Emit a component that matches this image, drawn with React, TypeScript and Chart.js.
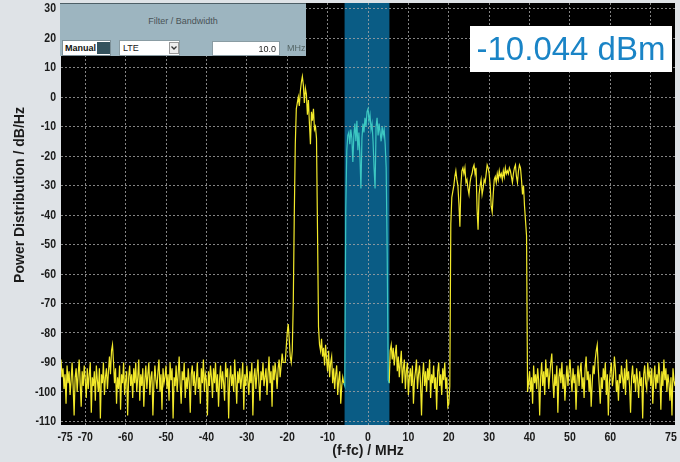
import React, { useEffect, useRef } from "react";
import { Chart, registerables } from "chart.js";

Chart.register(...registerables);

// ---------- axis / labels ----------
const xTicks = [-75, -70, -60, -50, -40, -30, -20, -10, 0, 10, 20, 30, 40, 50, 60, 70, 75];
const xHiddenLabels = [70];
const xNoGrid = [-75, 75];
const yTicks = [-110, -100, -90, -80, -70, -60, -50, -40, -30, -20, -10, 0, 10, 20, 30];
const xMin = -76;
const xMax = 76;
const yMin = -111.2;
const yMax = 31.9;
const xTitle = "(f-fc) / MHz";
const yTitle = "Power Distribution / dB/Hz";

// ---------- measurement band ----------
const bandLow = -5.8;
const bandHigh = 5.3;
const readout = "-10.044 dBm";
const filterTitle = "Filter / Bandwidth";
const filterMode = "Manual";
const filterStandard = "LTE";
const filterBandwidth = "10.0";
const filterUnit = "MHz";

// ---------- trace segments (dB/Hz), each with start frequency and step (MHz) ----------
const floorLeftStart = -76;
const floorLeftStep = 0.25;
const floorLeft = [
  -89, -95, -92, -99, -94, -104, -91, -97,
  -93, -101, -96, -90, -98, -108, -95, -92,
  -100, -94, -89, -97, -105, -93, -98, -91,
  -96, -102, -92, -99, -94, -90, -107, -95,
  -98, -93, -103, -91, -96, -100, -92, -109,
  -94, -97, -90, -101, -95, -92, -99, -93,
  -88, -94, -86, -84, -90, -97, -92, -104,
  -95, -99, -91, -106, -94, -97, -90, -101,
  -96, -93, -108, -95, -91, -98, -94, -102,
  -92, -97, -90, -100, -95, -89, -103, -94,
  -98, -92, -105, -96, -91, -99, -94, -90,
  -101, -95, -93, -108, -97, -91, -96, -99,
  -93, -89, -100, -94, -106, -92, -97, -95,
  -91, -99, -94, -103, -90, -96, -92, -109,
  -95, -98, -91, -100, -94, -88, -97, -104,
  -93, -96, -90, -102, -95, -99, -92, -97,
  -107, -94, -91, -98, -93, -101, -96, -90,
  -99, -95, -104, -92, -97, -89, -100, -94,
  -96, -108, -93, -98, -91, -95, -102, -92,
  -97, -90, -100, -94, -105, -96, -91, -99,
  -93, -97, -103, -90, -95, -92, -109, -96,
  -91, -98, -94, -100, -89, -96, -104, -93,
  -97, -92, -99, -95, -90, -106, -94, -98,
  -91, -96, -101, -93, -97, -90, -108, -95,
  -92, -99, -94, -89, -97, -103, -93, -96,
  -90, -98, -95, -92, -101, -94, -88, -97,
  -93, -105, -91, -96, -90, -94, -99, -92,
  -89, -95, -91, -87, -90,
];

const carrier1Start = -20.5;
const carrier1Step = 0.25;
const carrier1 = [
  -90, -85, -80, -77, -82, -88, -90, -86, -70, -40,
  -16, -4, -2, 0, -3, 2, 5, 7, 4, -2,
  3, 1, -6, -1, -9, -16, -5, -8, -4, -11,
  -10, -14, -45, -78, -84,
];

const floorMidAStart = -11.75;
const floorMidAStep = 0.25;
const floorMidA = [
  -86, -82, -88, -85, -91, -84, -89, -93, -86, -95, -90, -88,
  -97, -92, -99, -94, -91, -101, -96, -93, -104, -98, -95, -97,
];

const bandTraceStart = -6;
const bandTraceStep = 0.25;
const bandTrace = [
  -97, -98, -38, -18, -13, -12, -16, -11, -14, -22,
  -13, -9, -15, -8, -18, -12, -20, -31, -14, -9,
  -12, -7, -10, -5, -4, -8, -6, -11, -9, -15,
  -24, -31, -10, -7, -13, -9, -12, -15, -10, -13,
  -11, -16, -24, -53, -96, -97,
];

const floorMidBStart = 5.25;
const floorMidBStep = 0.25;
const floorMidB = [
  -97,
  -86, -84, -89, -85, -91, -87, -84, -93,
  -88, -95, -90, -86, -97, -92, -89, -99,
  -93, -90, -101, -95, -92, -98, -91, -104,
  -96, -93, -89, -99, -94, -91, -97, -108,
  -95, -90, -98, -93, -100, -92, -96, -89,
  -102, -94, -97, -91, -99, -95, -106, -93,
  -90, -98, -94, -101, -92, -96, -90, -99,
  -95, -105,
];

const carrier2Start = 20;
const carrier2Step = 0.25;
const carrier2 = [
  -104, -98, -43, -34,
  -32, -30, -27, -25,
  -28, -30, -36, -44,
  -30, -25, -24, -26,
  -24, -29, -28, -31,
  -33, -29, -27, -26,
  -24, -23, -26, -24,
  -38, -45, -33, -30,
  -28, -33, -31, -28,
  -29, -26, -23, -24,
  -26, -30, -37, -39,
  -33, -28, -27, -29,
  -26, -28, -25, -27,
  -26, -28, -25, -27,
  -24, -26, -25, -26,
  -24, -25, -27, -29,
  -26, -24, -23, -27,
  -29, -25, -23, -24,
  -28, -33, -30, -37,
  -42, -47, -100, -97,
];

const floorRightStart = 40;
const floorRightStep = 0.25;
const floorRight = [
  -93, -100, -95, -104, -91, -97, -94, -99,
  -92, -96, -108, -95, -90, -98, -93, -101,
  -89, -95, -92, -99, -94, -90, -87, -96,
  -102, -94, -98, -91, -107, -95, -92, -97,
  -90, -99, -94, -103, -96, -91, -98, -93,
  -89, -95, -100, -92, -97, -94, -106, -96,
  -91, -98, -93, -90, -99, -95, -102, -92,
  -88, -96, -93, -100, -94, -105, -97, -91,
  -94, -89, -86, -84, -92, -98, -104, -95,
  -99, -92, -96, -90, -101, -94, -108, -97,
  -93, -90, -98, -95, -88, -92, -100, -96,
  -103, -94, -97, -91, -95, -99, -92, -101,
  -89, -96, -93, -98, -107, -95, -91, -97,
  -94, -100, -92, -96, -102, -93, -98, -95,
  -109, -94, -91, -97, -99, -90, -95, -93,
  -98, -92, -104, -96, -91, -99, -94, -97,
  -90, -95, -106, -93, -98, -89, -96, -92,
  -100, -94, -97, -103, -95, -108, -92, -96,
  -98,
];

// ---------- styling ----------
const pageBg = "#dfe3e7";
const plotBg = "#000000";
const bandColor = "#0a5c85";
const yellow = "#f2e92a";
const cyan = "#3cc7c2";
const gridColor = "rgba(165,165,165,0.8)";
const textColor = "#1b1b1b";
const uiFont = "'Liberation Sans', Arial, sans-serif";
const tickFontCss = "bold 13.5px 'Liberation Sans', Arial, sans-serif";
const tickSquash = 0.78;

function seg(start: number, step: number, vals: number[]) {
  return vals.map((v, i) => ({ x: +(start + i * step).toFixed(3), y: v }));
}

export default function App() {
  const ref = useRef<HTMLCanvasElement | null>(null);

  useEffect(() => {
    document.body.style.margin = "0";
    const canvas = ref.current;
    if (!canvas) return;

    const bgPlugin = {
      id: "bgPlugin",
      beforeDraw(chart: any) {
        const { ctx, chartArea: a, scales } = chart;
        ctx.save();
        ctx.fillStyle = pageBg;
        ctx.fillRect(0, 0, chart.width, chart.height);
        ctx.fillStyle = plotBg;
        ctx.fillRect(a.left, a.top, a.right - a.left, a.bottom - a.top);
        const x0 = scales.x.getPixelForValue(bandLow);
        const x1 = scales.x.getPixelForValue(bandHigh);
        ctx.fillStyle = bandColor;
        ctx.fillRect(x0, a.top, x1 - x0, a.bottom - a.top);
        ctx.restore();
      },
      afterDraw(chart: any) {
        const { ctx, chartArea: a, scales } = chart;
        // tick labels (condensed bold)
        ctx.save();
        ctx.font = tickFontCss;
        ctx.fillStyle = textColor;
        ctx.textBaseline = "middle";
        ctx.textAlign = "right";
        for (const v of yTicks) {
          const py = scales.y.getPixelForValue(v);
          ctx.save();
          ctx.translate(a.left - 5, py);
          ctx.scale(tickSquash, 1);
          ctx.fillText(String(v), 0, 0);
          ctx.restore();
        }
        ctx.textAlign = "center";
        for (const v of xTicks) {
          if (xHiddenLabels.includes(v)) continue;
          const px = scales.x.getPixelForValue(v);
          ctx.save();
          ctx.translate(px, a.bottom + 12);
          ctx.scale(tickSquash, 1);
          ctx.fillText(String(v), 0, 0);
          ctx.restore();
        }
        ctx.restore();
        // y title
        ctx.save();
        ctx.translate(20, 195);
        ctx.rotate(-Math.PI / 2);
        ctx.font = "bold 14px " + uiFont;
        ctx.fillStyle = textColor;
        ctx.textAlign = "center";
        ctx.textBaseline = "middle";
        ctx.fillText(yTitle, 0, 0);
        ctx.restore();
      },
    };

    const lineStyle = {
      borderWidth: 1.2,
      pointRadius: 0,
      tension: 0,
      fill: false,
      spanGaps: false,
    };

    const chart = new Chart(canvas, {
      type: "line",
      data: {
        datasets: [
          {
            ...lineStyle,
            label: "left",
            borderColor: yellow,
            data: [
              ...seg(floorLeftStart, floorLeftStep, floorLeft),
              ...seg(carrier1Start, carrier1Step, carrier1),
              ...seg(floorMidAStart, floorMidAStep, floorMidA),
            ],
          },
          {
            ...lineStyle,
            label: "band",
            borderColor: cyan,
            data: seg(bandTraceStart, bandTraceStep, bandTrace),
          },
          {
            ...lineStyle,
            label: "right",
            borderColor: yellow,
            data: [
              ...seg(floorMidBStart, floorMidBStep, floorMidB),
              ...seg(carrier2Start, carrier2Step, carrier2),
              ...seg(floorRightStart, floorRightStep, floorRight),
            ],
          },
        ] as any,
      },
      options: {
        animation: false,
        responsive: false,
        devicePixelRatio: 1,
        events: [],
        layout: { padding: { left: 10, right: 5, top: 3, bottom: 2 } },
        plugins: {
          legend: { display: false },
          tooltip: { enabled: false },
        },
        scales: {
          x: {
            type: "linear",
            min: xMin,
            max: xMax,
            afterBuildTicks(scale: any) {
              scale.ticks = xTicks.map((v) => ({ value: v }));
            },
            afterFit(scale: any) {
              scale.height = 35;
              scale.paddingLeft = 0;
              scale.paddingRight = 0;
            },
            ticks: { display: false },
            grid: {
              drawTicks: false,
              lineWidth: 1,
              color: (c: any) => (c.tick && xNoGrid.includes(c.tick.value) ? "rgba(0,0,0,0)" : gridColor),
              borderDash: [2, 2],
            } as any,
            border: { display: false, dash: [2, 2] } as any,
            title: {
              display: true,
              text: xTitle,
              color: textColor,
              font: { family: uiFont, size: 14, weight: "bold" },
              padding: { top: 0, bottom: 0 },
            },
          },
          y: {
            type: "linear",
            min: yMin,
            max: yMax,
            afterBuildTicks(scale: any) {
              scale.ticks = yTicks.map((v) => ({ value: v }));
            },
            afterFit(scale: any) {
              scale.width = 51;
              scale.paddingTop = 0;
              scale.paddingBottom = 0;
            },
            ticks: { display: false },
            grid: {
              drawTicks: false,
              lineWidth: 1,
              color: gridColor,
              borderDash: [2, 2],
            } as any,
            border: { display: false, dash: [2, 2] } as any,
          },
        },
      } as any,
      plugins: [bgPlugin],
    });

    return () => chart.destroy();
  }, []);

  const box: React.CSSProperties = {
    position: "absolute",
    background: "#ffffff",
    boxSizing: "border-box",
  };

  return (
    <div style={{ position: "relative", width: 680, height: 462, overflow: "hidden", fontFamily: uiFont }}>
      <canvas ref={ref} width={680} height={462} style={{ position: "absolute", left: 0, top: 0, width: 680, height: 462 }} />

      {/* Filter / Bandwidth panel */}
      <div
        style={{
          position: "absolute",
          left: 60,
          top: 3,
          width: 246,
          height: 53,
          background: "#9db5c0",
          borderTop: "1px solid #4d5f66",
          boxSizing: "border-box",
        }}
      >
        <div style={{ position: "absolute", left: 0, width: 246, top: 12, textAlign: "center", fontSize: 9, color: "#4a5357" }}>
          {filterTitle}
        </div>
      </div>
      <div style={{ ...box, left: 62, top: 40, width: 49, height: 16, border: "1px solid #7d9098" }}>
        <span style={{ position: "absolute", left: 2, top: 2, fontSize: 9, fontWeight: "bold", color: "#111" }}>{filterMode}</span>
        <div style={{ position: "absolute", left: 34, top: 1, width: 13, height: 12, background: "#34525d" }} />
      </div>
      <div style={{ ...box, left: 119, top: 40, width: 61, height: 16, border: "1px solid #8a9ca3" }}>
        <span style={{ position: "absolute", left: 3, top: 2, fontSize: 9, color: "#222" }}>{filterStandard}</span>
        <div
          style={{
            position: "absolute",
            left: 49,
            top: 1,
            width: 10,
            height: 12,
            background: "#eeeeee",
            border: "1px solid #9a9a9a",
            boxSizing: "border-box",
          }}
        >
          <svg width="8" height="10" style={{ position: "absolute", left: 0, top: 0 }}>
            <polyline points="1.5,3.5 4,6 6.5,3.5" fill="none" stroke="#333" strokeWidth="1.3" />
          </svg>
        </div>
      </div>
      <div style={{ ...box, left: 212, top: 41, width: 68, height: 15, border: "1px solid #8a9ca3" }}>
        <span style={{ position: "absolute", right: 3, top: 1.5, fontSize: 9, color: "#222" }}>{filterBandwidth}</span>
      </div>
      <div style={{ position: "absolute", left: 287, top: 43, fontSize: 9, color: "#566" }}>{filterUnit}</div>

      {/* Readout */}
      <div
        style={{
          ...box,
          left: 470,
          top: 26,
          width: 202,
          height: 46,
          lineHeight: "46px",
          textAlign: "center",
          fontSize: 33,
          color: "#1a84c6",
          whiteSpace: "nowrap",
        }}
      >
        {readout}
      </div>
    </div>
  );
}
